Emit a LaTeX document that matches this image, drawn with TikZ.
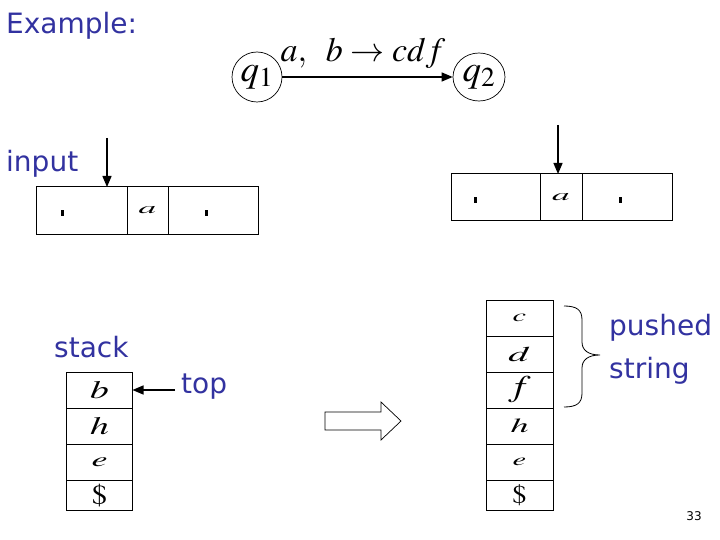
\documentclass[tikz,border=0pt]{standalone}
\usepackage{mathptmx}
\usepackage[no-math]{fontspec}
\setmainfont{DejaVu Sans}
\usetikzlibrary{arrows.meta,shapes.geometric}
\definecolor{slideblue}{RGB}{50,50,160}
% stretched math letter: xscale, font size, letter
\newcommand{\widesym}[3]{\scalebox{#1}[1]{\fontsize{#2}{#2}\selectfont$#3$}}
\tikzset{
  cell/.style={draw, line width=1pt, inner sep=0pt, outer sep=0pt, minimum width=66pt, minimum height=36pt},
  tapecell/.style={draw, line width=1pt, inner sep=0pt, outer sep=0pt, minimum height=47pt},
  state/.style={draw, ellipse, line width=0.7pt, inner sep=0pt},
  lbl/.style={text=slideblue, font=\fontsize{28}{33}\selectfont, anchor=base west, inner sep=0pt},
}
\begin{document}
\begin{tikzpicture}[x=1pt, y=-1pt, >={Triangle[length=11pt, width=9pt]}]
  \useasboundingbox (0,0) rectangle (720,540);
  \node[lbl] (title) at (6,34) {Example:};
  % transition
  \node[state, minimum width=50pt, minimum height=50pt] (q1) at (257,77) {\fontsize{37}{40}\selectfont$q_1$};
  \node[state, minimum width=52pt, minimum height=48pt] (q2) at (479,77) {\fontsize{37}{40}\selectfont$q_2$};
  \draw[->, line width=1.3pt] (q1) -- (q2);
  \node[font=\fontsize{34}{38}\selectfont, anchor=base, inner sep=0pt] (trans) at (363,62) {$a,\;\; b\rightarrow cdf$};
  % input tapes
  \node[lbl] (input) at (6,172) {input};
  \node[tapecell, minimum width=91pt] (tl1) at (81.5,210.5) {};
  \node[tapecell, minimum width=41pt] (tl2) at (147.5,210.5) {\widesym{2.2}{16}{a}};
  \node[tapecell, minimum width=90pt] (tl3) at (213,210.5) {};
  \node[tapecell, minimum width=89pt] (tr1) at (495.5,197.5) {};
  \node[tapecell, minimum width=42pt] (tr2) at (561,197.5) {\widesym{2.2}{16}{a}};
  \node[tapecell, minimum width=90pt] (tr3) at (627,197.5) {};
  \fill (61,210) rectangle (64,216);
  \fill (205,210) rectangle (208,216);
  \fill (474,197) rectangle (477,203);
  \fill (619,197) rectangle (622,203);
  \coordinate (inL) at (107,138);
  \coordinate (inR) at (558,125);
  \draw[->, line width=1.3pt] (inL) -- (inL |- tl1.north);
  \draw[->, line width=1.3pt] (inR) -- (inR |- tr2.north);
  % stack before
  \node[lbl] (stack) at (54,357) {stack};
  \node[cell] (sl1) at (99.5,390) {\widesym{1.5}{25}{b}};
  \node[cell] (sl2) at (99.5,426) {\widesym{1.5}{25}{h}};
  \node[cell] (sl3) at (99.5,462) {\widesym{1.8}{20}{e}};
  \node[cell, minimum height=30pt] (sl4) at (99.5,495) {\widesym{1.1}{28}{\$}};
  \coordinate (topL) at (175,390);
  \draw[->, line width=1.3pt] (topL) -- (sl1.east);
  \node[lbl] (top) at (181,393) {top};
  % big arrow
  \draw[line width=0.7pt] (325,412) -- (381,412) -- (381,402) -- (401,421)
    -- (381,440) -- (381,430) -- (325,430) -- cycle;
  % stack after
  \node[cell, minimum width=67pt] (sr1) at (519.5,318) {\widesym{1.8}{17}{c}};
  \node[cell, minimum width=67pt] (sr2) at (519.5,354) {\widesym{1.9}{21}{d}};
  \node[cell, minimum width=67pt] (sr3) at (519.5,390) {\widesym{1.3}{30}{f}};
  \node[cell, minimum width=67pt] (sr4) at (519.5,426) {\widesym{1.8}{20}{h}};
  \node[cell, minimum width=67pt] (sr5) at (519.5,462) {\widesym{1.8}{17}{e}};
  \node[cell, minimum width=67pt, minimum height=30pt] (sr6) at (519.5,495) {\widesym{1.1}{26}{\$}};
  \draw[line width=0.8pt] (564,306) .. controls (577,306) and (582,310) .. (582,320) -- (582,342)
    .. controls (582,350) and (588,355) .. (600,355)
    .. controls (588,355) and (582,360) .. (582,368) -- (582,393)
    .. controls (582,403) and (577,407) .. (564,407);
  \node[lbl] (pushed) at (609,335) {pushed};
  \node[lbl] (string) at (609,378) {string};
  \node[font=\fontsize{12}{14}\selectfont] (page) at (694,516) {33};
\end{tikzpicture}
\end{document}
